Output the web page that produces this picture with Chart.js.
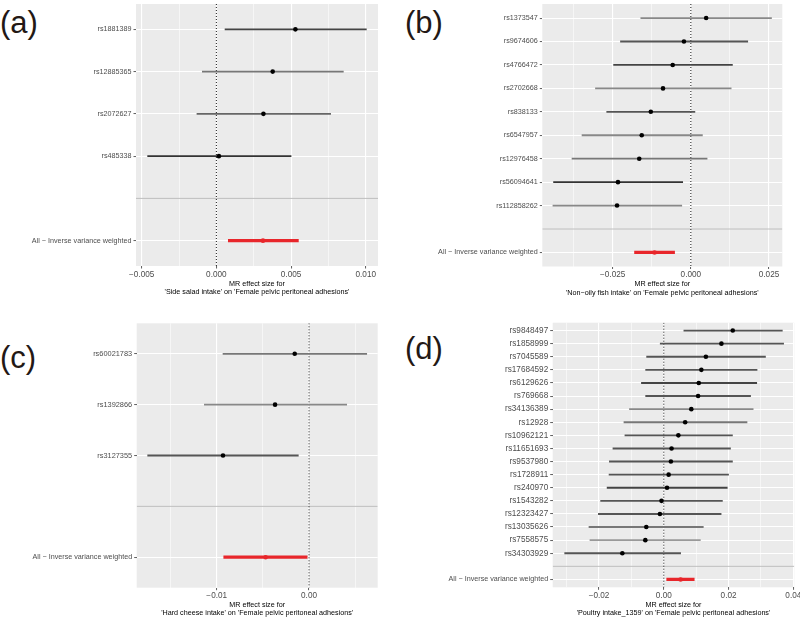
<!DOCTYPE html>
<html>
<head>
<meta charset="utf-8">
<script src="https://cdn.jsdelivr.net/npm/chart.js@4.4.0/dist/chart.umd.min.js"></script>
<style>
  html, body { margin: 0; padding: 0; background: #fff; width: 800px; height: 619px; overflow: hidden; position: relative; }
  canvas { position: absolute; }
  .tag { position: absolute; font-family: "Liberation Sans", Arial, sans-serif; font-size: 31px; line-height: 31px; color: #231815; }
</style>
</head>
<body>
<div class="tag" style="left:0px; top:7px">(a)</div>
<div class="tag" style="left:405px; top:7px">(b)</div>
<div class="tag" style="left:0px; top:342px">(c)</div>
<div class="tag" style="left:405px; top:333px">(d)</div>

<canvas id="chart-a" style="left:0px; top:0px"></canvas>
<canvas id="chart-b" style="left:400px; top:0px"></canvas>
<canvas id="chart-c" style="left:0px; top:310px"></canvas>
<canvas id="chart-d" style="left:400px; top:310px"></canvas>

<script>
// ---- Data ----

// (a) Side salad intake
const aSnps = ['rs1881389', 'rs12885365', 'rs2072627', 'rs485338'];
const aBeta = [0.00529, 0.00377, 0.00315, 0.00017];
const aLow  = [0.00058, -0.00094, -0.0013, -0.0046];
const aHigh = [0.01004, 0.0085, 0.00765, 0.005];
const aIvw  = [0.00312, 0.0008, 0.00549]; // estimate, low, high
const aXTicks = [-0.005, 0, 0.005, 0.010];
const aXLabels = ['−0.005', '0.000', '0.005', '0.010'];
const aXMinor = [-0.0025, 0.0025, 0.0075];
const aTitle = ['MR effect size for', "'Side salad intake' on 'Female pelvic peritoneal adhesions'"];

// (b) Non-oily fish intake
const bSnps = ['rs1373547', 'rs9674606', 'rs4766472', 'rs2702668', 'rs838133',
               'rs6547957', 'rs12976458', 'rs56094641', 'rs112858262'];
const bBeta = [0.0049, -0.0022, -0.0058, -0.0089, -0.0128, -0.0157, -0.0165, -0.0233, -0.0236];
const bLow  = [-0.016, -0.0225, -0.0247, -0.0305, -0.0269, -0.0348, -0.038, -0.0439, -0.0441];
const bHigh = [0.0258, 0.0182, 0.0133, 0.0129, 0.0013, 0.0037, 0.0052, -0.0026, -0.0029];
const bIvw  = [-0.0116, -0.018, -0.0052];
const bXTicks = [-0.025, 0, 0.025];
const bXLabels = ['−0.025', '0.000', '0.025'];
const bXMinor = [-0.0375, -0.0125, 0.0125];
const bTitle = ['MR effect size for', "'Non−oily fish intake' on 'Female pelvic peritoneal adhesions'"];

// (c) Hard cheese intake
const cSnps = ['rs60021783', 'rs1392866', 'rs3127355'];
const cBeta = [-0.00155, -0.00368, -0.00932];
const cLow  = [-0.00932, -0.01134, -0.01748];
const cHigh = [0.00625, 0.00408, -0.00116];
const cIvw  = [-0.0047, -0.00924, -0.0002];
const cXTicks = [-0.01, 0];
const cXLabels = ['−0.01', '0.00'];
const cXMinor = [-0.015, -0.005, 0.005];
const cTitle = ['MR effect size for', "'Hard cheese intake' on 'Female pelvic peritoneal adhesions'"];

// (d) Poultry intake
const dSnps = ['rs9848497', 'rs1858999', 'rs7045589', 'rs17684592', 'rs6129626', 'rs769668',
               'rs34136389', 'rs12928', 'rs10962121', 'rs11651693', 'rs9537980', 'rs1728911',
               'rs240970', 'rs1543282', 'rs12323427', 'rs13035626', 'rs7558575', 'rs34303929'];
const dBeta = [0.0213, 0.0178, 0.013, 0.0116, 0.0108, 0.0106, 0.0085, 0.0066, 0.0045,
               0.0024, 0.0022, 0.0015, 0.001, -0.0007, -0.0012, -0.0054, -0.0057, -0.0128];
const dLow  = [0.0062, -0.0011, -0.0053, -0.0056, -0.0069, -0.0056, -0.0106, -0.0123, -0.012,
               -0.0157, -0.0168, -0.0169, -0.0175, -0.0195, -0.0202, -0.0231, -0.0228, -0.0306];
const dHigh = [0.0366, 0.037, 0.0314, 0.0288, 0.0287, 0.0268, 0.0276, 0.0257, 0.0212,
               0.0206, 0.0212, 0.02, 0.0196, 0.0181, 0.0177, 0.0122, 0.0113, 0.0052];
const dIvw  = [0.0052, 0.0009, 0.0094];
const dXTicks = [-0.02, 0, 0.02, 0.04];
const dXLabels = ['−0.02', '0.00', '0.02', '0.04'];
const dXMinor = [-0.03, -0.01, 0.01, 0.03];
const dTitle = ['MR effect size for', "'Poultry intake_1359' on 'Female pelvic peritoneal adhesions'"];

// ---- Styles ----
const RED = '#e8262b';
const aTone = ['#444', '#777', '#666', '#333'];
const bTone = ['#888', '#555', '#444', '#888', '#555', '#888', '#777', '#333', '#888'];
const cTone = ['#777', '#888', '#555'];
const dTone = ['#555', '#555', '#555', '#555', '#444', '#555', '#888', '#777', '#555',
               '#555', '#555', '#555', '#444', '#555', '#555', '#777', '#999', '#555'];

Chart.defaults.font.family = '"Liberation Sans", Arial, sans-serif';

// grey panel behind the grid, like ggplot's theme_grey
const panelBg = {
  id: 'panelBg',
  beforeDraw(chart) {
    const a = chart.chartArea;
    const ctx = chart.ctx;
    ctx.save();
    ctx.fillStyle = '#ebebeb';
    ctx.fillRect(a.left, a.top, a.right - a.left, a.bottom - a.top);
    ctx.restore();
  }
};

// Build one forest plot. g = canvas geometry (W, H, chart area L/R/T/B etc.)
function buildForest(id, p, g) {
  const n = p.snps.length;
  const sepPos = n + 1;
  const ivwPos = n + 2;
  const yTicks = p.snps.map((_, i) => i + 1).concat([ivwPos]);
  const yLabels = p.snps.concat(['All − Inverse variance weighted']);
  const xAll = p.xTicks.concat(p.xMinor).sort((a, b) => a - b);
  const isMajor = v => p.xTicks.some(t => Math.abs(t - v) < 1e-9);

  const canvas = document.getElementById(id);
  canvas.width = g.W;
  canvas.height = g.H;
  canvas.style.width = g.W + 'px';
  canvas.style.height = g.H + 'px';

  const points = p.snps.map((s, i) => ({ x: p.beta[i], y: i + 1 }));
  points.push({ x: p.ivw[0], y: ivwPos });
  const pointColors = p.snps.map(() => '#000').concat([RED]);

  new Chart(canvas, {
    type: 'scatter',
    data: {
      datasets: [
        {
          type: 'scatter',
          data: points,
          pointRadius: 2.3,
          pointBorderWidth: 0,
          pointBackgroundColor: pointColors,
          order: 0
        },
        {
          type: 'bar',
          indexAxis: 'y',
          grouped: false,
          barThickness: 1.2,
          data: p.snps.map((s, i) => ({ x: [p.low[i], p.high[i]], y: i + 1 })),
          backgroundColor: p.tone,
          borderWidth: 0,
          order: 1
        },
        {
          type: 'bar',
          indexAxis: 'y',
          grouped: false,
          barThickness: 2.5,
          data: [{ x: [p.ivw[1], p.ivw[2]], y: ivwPos }],
          backgroundColor: RED,
          borderWidth: 0,
          order: 1
        },
        {
          type: 'line',
          data: [{ x: 0, y: 0.4 }, { x: 0, y: ivwPos + 0.6 }],
          borderColor: '#1a1a1a',
          borderWidth: 1,
          borderDash: [1, 2],
          pointRadius: 0,
          order: 2
        },
        {
          type: 'line',
          data: [{ x: p.xMin, y: sepPos }, { x: p.xMax, y: sepPos }],
          borderColor: '#bebebe',
          borderWidth: 1,
          pointRadius: 0,
          order: 3
        }
      ]
    },
    options: {
      responsive: false,
      animation: false,
      devicePixelRatio: 1,
      layout: { padding: { left: 0, right: g.W - g.R, top: g.T, bottom: 0 } },
      plugins: { legend: { display: false }, tooltip: { enabled: false } },
      scales: {
        x: {
          type: 'linear',
          position: 'bottom',
          min: p.xMin,
          max: p.xMax,
          offset: false,
          afterBuildTicks: scale => { scale.ticks = xAll.map(v => ({ value: v })); },
          afterFit: scale => {
            scale.height = g.H - g.B;
            scale.paddingLeft = 0;
            scale.paddingRight = 0;
          },
          border: { display: false },
          grid: {
            offset: false,
            color: '#ffffff',
            lineWidth: ctx => (ctx.tick && isMajor(ctx.tick.value)) ? 1.1 : 0.55,
            tickColor: ctx => (ctx.tick && isMajor(ctx.tick.value)) ? '#333333' : 'rgba(0,0,0,0)',
            tickLength: 2.5,
            tickWidth: 0.8
          },
          ticks: {
            autoSkip: false,
            maxRotation: 0,
            color: '#4d4d4d',
            font: { size: 8.2 },
            padding: g.xPad,
            callback: v => {
              const k = p.xTicks.findIndex(t => Math.abs(t - v) < 1e-9);
              return k >= 0 ? p.xLabels[k] : '';
            }
          },
          title: {
            display: true,
            text: p.title,
            color: '#000',
            font: { size: 7.2, lineHeight: 1.18 },
            padding: { top: 0, bottom: g.titlePad }
          }
        },
        y: {
          type: 'linear',
          min: 0.4,
          max: ivwPos + 0.6,
          reverse: true,
          offset: false,
          afterBuildTicks: scale => { scale.ticks = yTicks.map(v => ({ value: v })); },
          afterFit: scale => {
            scale.width = g.L;
            scale.paddingTop = 0;
            scale.paddingBottom = 0;
          },
          border: { display: false },
          grid: {
            offset: false,
            color: '#ffffff',
            lineWidth: 1.1,
            tickColor: '#333333',
            tickLength: 2.5,
            tickWidth: 0.8
          },
          ticks: {
            autoSkip: false,
            color: '#4d4d4d',
            padding: 2,
            font: ctx => ({ size: (ctx.tick && ctx.tick.value === ivwPos) ? 7.2 : p.snpFont }),
            callback: v => {
              const k = yTicks.indexOf(v);
              return k >= 0 ? yLabels[k] : '';
            }
          }
        }
      }
    },
    plugins: [panelBg]
  });
}

buildForest('chart-a',
  { snps: aSnps, beta: aBeta, low: aLow, high: aHigh, ivw: aIvw, tone: aTone,
    xMin: -0.00538, xMax: 0.01082, xTicks: aXTicks, xLabels: aXLabels, xMinor: aXMinor,
    title: aTitle, snpFont: 7.2 },
  { W: 400, H: 305, L: 136, R: 378, T: 1, B: 266, xPad: 1.6, titlePad: 8.3 });

buildForest('chart-b',
  { snps: bSnps, beta: bBeta, low: bLow, high: bHigh, ivw: bIvw, tone: bTone,
    xMin: -0.0475, xMax: 0.02925, xTicks: bXTicks, xLabels: bXLabels, xMinor: bXMinor,
    title: bTitle, snpFont: 7.2 },
  { W: 400, H: 305, L: 142.3, R: 382.3, T: 1.5, B: 266.5, xPad: 1.1, titlePad: 8.0 });

buildForest('chart-c',
  { snps: cSnps, beta: cBeta, low: cLow, high: cHigh, ivw: cIvw, tone: cTone,
    xMin: -0.01867, xMax: 0.00744, xTicks: cXTicks, xLabels: cXLabels, xMinor: cXMinor,
    title: cTitle, snpFont: 7.4 },
  { W: 400, H: 309, L: 136.7, R: 377.7, T: 13.3, B: 277.7, xPad: 0.6, titlePad: 1.4 });

buildForest('chart-d',
  { snps: dSnps, beta: dBeta, low: dLow, high: dHigh, ivw: dIvw, tone: dTone,
    xMin: -0.0343, xMax: 0.0403, xTicks: dXTicks, xLabels: dXLabels, xMinor: dXMinor,
    title: dTitle, snpFont: 8.2 },
  { W: 410, H: 309, L: 152.7, R: 394.3, T: 12.7, B: 277.3, xPad: 1.3, titlePad: 1.6 });
</script>
</body>
</html>
